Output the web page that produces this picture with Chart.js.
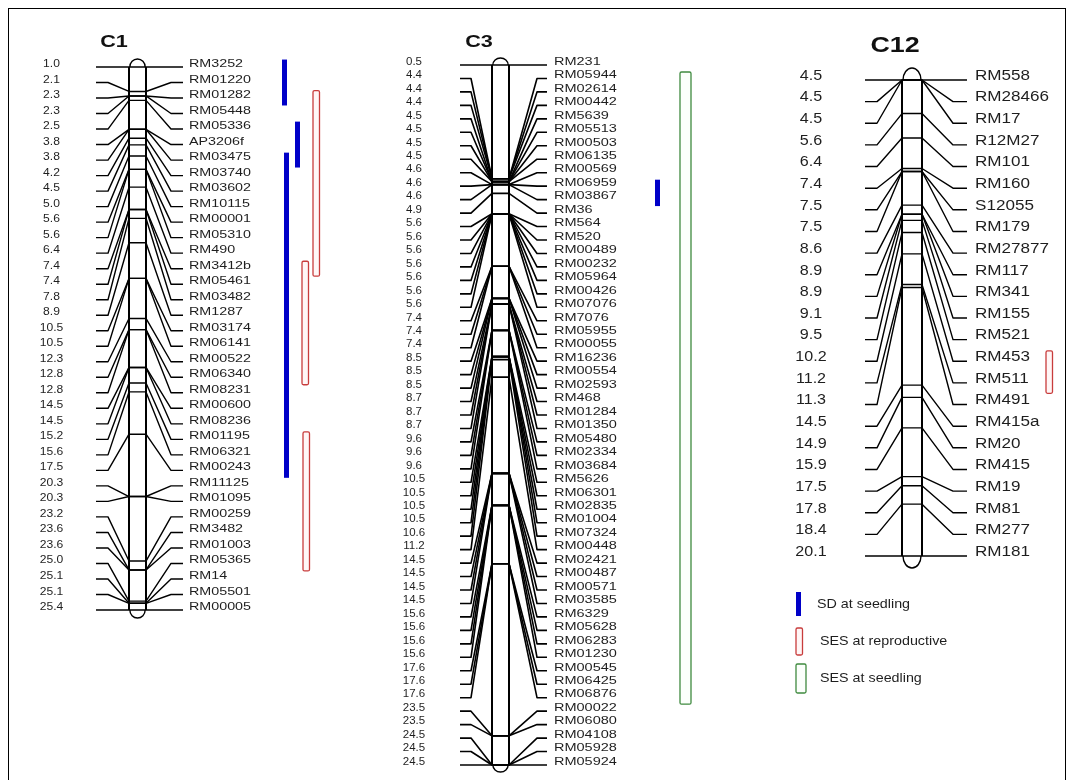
<!DOCTYPE html>
<html>
<head>
<meta charset="utf-8">
<script src="https://cdn.jsdelivr.net/npm/chart.js@4"></script>
<style>
  body { margin: 0; background: #fff; }
  #wrap { width: 1073px; height: 780px; }
</style>
</head>
<body>
<div id="wrap"><canvas id="mapChart"></canvas></div>
<script>
const W = 1073, H = 780;

// marker names and cM positions
const c1Markers = ['RM3252', 'RM01220', 'RM01282', 'RM05448', 'RM05336', 'AP3206f', 'RM03475', 'RM03740', 'RM03602',
    'RM10115', 'RM00001', 'RM05310', 'RM490', 'RM3412b', 'RM05461', 'RM03482', 'RM1287', 'RM03174', 'RM06141',
    'RM00522', 'RM06340', 'RM08231', 'RM00600', 'RM08236', 'RM01195', 'RM06321', 'RM00243', 'RM11125', 'RM01095',
    'RM00259', 'RM3482', 'RM01003', 'RM05365', 'RM14', 'RM05501', 'RM00005'];
const c1Pos = [1.0, 2.1, 2.3, 2.3, 2.5, 3.8, 3.8, 4.2, 4.5, 5.0, 5.6, 5.6, 6.4, 7.4, 7.4, 7.8, 8.9, 10.5, 10.5,
    12.3, 12.8, 12.8, 14.5, 14.5, 15.2, 15.6, 17.5, 20.3, 20.3, 23.2, 23.6, 23.6, 25.0, 25.1, 25.1, 25.4];

const c3Markers = ['RM231', 'RM05944', 'RM02614', 'RM00442', 'RM5639', 'RM05513', 'RM00503', 'RM06135', 'RM00569',
    'RM06959', 'RM03867', 'RM36', 'RM564', 'RM520', 'RM00489', 'RM00232', 'RM05964', 'RM00426', 'RM07076', 'RM7076',
    'RM05955', 'RM00055', 'RM16236', 'RM00554', 'RM02593', 'RM468', 'RM01284', 'RM01350', 'RM05480', 'RM02334',
    'RM03684', 'RM5626', 'RM06301', 'RM02835', 'RM01004', 'RM07324', 'RM00448', 'RM02421', 'RM00487', 'RM00571',
    'RM03585', 'RM6329', 'RM05628', 'RM06283', 'RM01230', 'RM00545', 'RM06425', 'RM06876', 'RM00022', 'RM06080',
    'RM04108', 'RM05928', 'RM05924'];
const c3Pos = [0.5, 4.4, 4.4, 4.4, 4.5, 4.5, 4.5, 4.5, 4.6, 4.6, 4.6, 4.9, 5.6, 5.6, 5.6, 5.6, 5.6, 5.6, 5.6,
    7.4, 7.4, 7.4, 8.5, 8.5, 8.5, 8.7, 8.7, 8.7, 9.6, 9.6, 9.6, 10.5, 10.5, 10.5, 10.5, 10.6, 11.2,
    14.5, 14.5, 14.5, 14.5, 15.6, 15.6, 15.6, 15.6, 17.6, 17.6, 17.6, 23.5, 23.5, 24.5, 24.5, 24.5];

const c12Markers = ['RM558', 'RM28466', 'RM17', 'R12M27', 'RM101', 'RM160', 'S12055', 'RM179', 'RM27877', 'RM117',
    'RM341', 'RM155', 'RM521', 'RM453', 'RM511', 'RM491', 'RM415a', 'RM20', 'RM415', 'RM19', 'RM81', 'RM277', 'RM181'];
const c12Pos = [4.5, 4.5, 4.5, 5.6, 6.4, 7.4, 7.5, 7.5, 8.6, 8.9, 8.9, 9.1, 9.5, 10.2, 11.2, 11.3, 14.5, 14.9,
    15.9, 17.5, 17.8, 18.4, 20.1];

// QTL intervals: chromosome, first marker, last marker, trait
const qtlRanges = [
    ['C1', 'RM3252', 'RM01282', 'SD'],
    ['C1', 'RM05336', 'RM03475', 'SD'],
    ['C1', 'RM03475', 'RM00243', 'SD'],
    ['C1', 'RM01282', 'RM3412b', 'SESr'],
    ['C1', 'RM3412b', 'RM06340', 'SESr'],
    ['C1', 'RM01195', 'RM05365', 'SESr'],
    ['C3', 'RM06959', 'RM03867', 'SD'],
    ['C3', 'RM05944', 'RM06876', 'SESs'],
    ['C12', 'RM453', 'RM511', 'SESr']
];
const qtlColumn = [282, 295, 284, 313, 302, 303, 655, 680, 1046];

const traits = ['SD', 'SESr', 'SESs'];
const traitLabels = ['SD at seedling', 'SES at reproductive', 'SES at seedling'];

const traitStyle = {
    SD: { w: 5, fill: '#0000c8', stroke: null },
    SESr: { w: 6.5, fill: '#fff6f6', stroke: '#c83c3c' },
    SESs: { w: 11, fill: '#fbfffb', stroke: '#3f8a3f' }
};

const chromosomes = [
    { id: 'C1', markers: c1Markers, pos: c1Pos, top: 67, bottom: 610, numX: 51.5, x0: 96, x1: 108, cl: 129, cr: 146,
      x2: 171, x3: 183, labelX: 189, font: 11, labelSx: 1.3, numSx: 1.1, textDy: -3, lw: 1.4,
      titleX: 114, titleY: 43, titleFont: 16, titleSx: 1.35, capH: 8 },
    { id: 'C3', markers: c3Markers, pos: c3Pos, top: 65, bottom: 765, numX: 414, x0: 460, x1: 471, cl: 492, cr: 509,
      x2: 537, x3: 547, labelX: 554, font: 10, labelSx: 1.45, numSx: 1.15, textDy: -3, lw: 1.6,
      titleX: 479, titleY: 43, titleFont: 16, titleSx: 1.35, capH: 7 },
    { id: 'C12', markers: c12Markers, pos: c12Pos, top: 80, bottom: 556, numX: 811, x0: 865, x1: 877, cl: 902, cr: 922,
      x2: 953, x3: 967, labelX: 975, font: 14, labelSx: 1.22, numSx: 1.15, textDy: -4, lw: 1.4,
      titleX: 895, titleY: 46, titleFont: 22, titleSx: 1.22, capH: 12 }
];

// a hidden linear axis whose values v0..v1 fall on pixels p0..p1
function fitScale(v0, v1, p0, p1) {
    const k = (p1 - p0) / (v1 - v0);
    const min = v0 - p0 / k;
    return { type: 'linear', axis: 'y', position: 'left', reverse: true, display: false, bounds: 'data', min: min, max: min + H / k };
}

const scales = { x: { type: 'linear', min: 0, max: W, display: false, bounds: 'data' } };
chromosomes.forEach(ch => {
    const n = ch.markers.length;
    scales['yRow' + ch.id] = fitScale(0, n - 1, ch.top, ch.bottom);
    scales['yCm' + ch.id] = fitScale(ch.pos[0], ch.pos[n - 1], ch.top, ch.bottom);
});

function stretchText(ctx, str, x, y, sx, align) {
    ctx.save();
    ctx.translate(x, y);
    ctx.scale(sx, 1);
    ctx.textAlign = align;
    ctx.textBaseline = 'middle';
    ctx.fillText(str, 0, 0);
    ctx.restore();
}

function drawBar(ctx, x, y0, y1, style) {
    ctx.save();
    ctx.fillStyle = style.fill;
    ctx.fillRect(x, y0, style.w, y1 - y0);
    if (style.stroke) {
        ctx.strokeStyle = style.stroke;
        ctx.lineWidth = 1.3;
        ctx.beginPath();
        ctx.roundRect(x, y0, style.w, y1 - y0, 1.5);
        ctx.stroke();
    }
    ctx.restore();
}

const mapPlugin = {
    id: 'linkageMap',
    afterDraw(chart) {
        const ctx = chart.ctx;
        const xs = chart.scales.x;
        const X = v => xs.getPixelForValue(v);

        chromosomes.forEach(ch => {
            const rowS = chart.scales['yRow' + ch.id];
            const cmS = chart.scales['yCm' + ch.id];
            const n = ch.markers.length;
            const yTop = cmS.getPixelForValue(ch.pos[0]);
            const yBot = cmS.getPixelForValue(ch.pos[n - 1]);
            const cx = (X(ch.cl) + X(ch.cr)) / 2;
            const rx = (X(ch.cr) - X(ch.cl)) / 2;

            ctx.save();
            ctx.strokeStyle = '#000';
            ctx.lineJoin = 'round';

            // chromosome body with rounded ends
            ctx.lineWidth = 2;
            ctx.beginPath();
            ctx.moveTo(X(ch.cl), yTop);
            ctx.lineTo(X(ch.cl), yBot);
            ctx.moveTo(X(ch.cr), yTop);
            ctx.lineTo(X(ch.cr), yBot);
            ctx.stroke();
            ctx.lineWidth = 1.4;
            ctx.beginPath();
            ctx.ellipse(cx, yTop, rx * 0.9, ch.capH, 0, Math.PI, 2 * Math.PI);
            ctx.stroke();
            ctx.beginPath();
            ctx.ellipse(cx, yBot, rx * 0.9, ch.capH, 0, 0, Math.PI);
            ctx.stroke();

            // connectors and cross bars
            ctx.lineWidth = ch.lw;
            ch.markers.forEach((m, i) => {
                const ry = rowS.getPixelForValue(i);
                const cy = cmS.getPixelForValue(ch.pos[i]);
                ctx.beginPath();
                ctx.moveTo(X(ch.x0), ry);
                ctx.lineTo(X(ch.x1), ry);
                ctx.lineTo(X(ch.cl), cy);
                ctx.lineTo(X(ch.cr), cy);
                ctx.lineTo(X(ch.x2), ry);
                ctx.lineTo(X(ch.x3), ry);
                ctx.stroke();
            });

            // labels
            ctx.fillStyle = '#1e1e1e';
            ctx.font = ch.font + 'px Arial, "Liberation Sans", sans-serif';
            ch.markers.forEach((m, i) => {
                const ty = rowS.getPixelForValue(i) + ch.textDy;
                stretchText(ctx, ch.pos[i].toFixed(1), X(ch.numX), ty, ch.numSx, 'center');
                stretchText(ctx, m, X(ch.labelX), ty, ch.labelSx, 'left');
            });

            ctx.fillStyle = '#111';
            ctx.font = 'bold ' + ch.titleFont + 'px Arial, "Liberation Sans", sans-serif';
            stretchText(ctx, ch.id, X(ch.titleX), ch.titleY, ch.titleSx, 'center');
            ctx.restore();
        });

        // QTL bars
        qtlRanges.forEach((q, k) => {
            const ch = chromosomes.find(c => c.id === q[0]);
            const rowS = chart.scales['yRow' + ch.id];
            const i0 = ch.markers.indexOf(q[1]);
            const i1 = ch.markers.indexOf(q[2]);
            const y0 = rowS.getPixelForValue(i0 - 0.48);
            const y1 = rowS.getPixelForValue(i1 + 0.48);
            drawBar(ctx, X(qtlColumn[k]), y0, y1, traitStyle[q[3]]);
        });

        // legend
        const legendTop = [592, 628, 664];
        const legendH = [24, 27, 29];
        ctx.save();
        ctx.fillStyle = '#1e1e1e';
        ctx.font = '13.5px Arial, "Liberation Sans", sans-serif';
        traits.forEach((t, i) => {
            const st = Object.assign({}, traitStyle[t]);
            if (t === 'SESs') st.w = 10;
            drawBar(ctx, X(796), legendTop[i], legendTop[i] + legendH[i], st);
            stretchText(ctx, traitLabels[i], X(t === 'SD' ? 817 : 820), legendTop[i] + legendH[i] / 2, 1.06, 'left');
        });
        ctx.restore();

        // outer frame
        ctx.save();
        ctx.strokeStyle = '#000';
        ctx.lineWidth = 1;
        ctx.strokeRect(8.5, 8.5, 1057, 800);
        ctx.restore();
    }
};

new Chart(document.getElementById('mapChart'), {
    type: 'scatter',
    data: { datasets: [] },
    options: {
        responsive: true,
        maintainAspectRatio: false,
        animation: false,
        layout: { padding: 0 },
        plugins: { legend: { display: false }, title: { display: false }, tooltip: { enabled: false } },
        scales: scales
    },
    plugins: [mapPlugin]
});
</script>
</body>
</html>
